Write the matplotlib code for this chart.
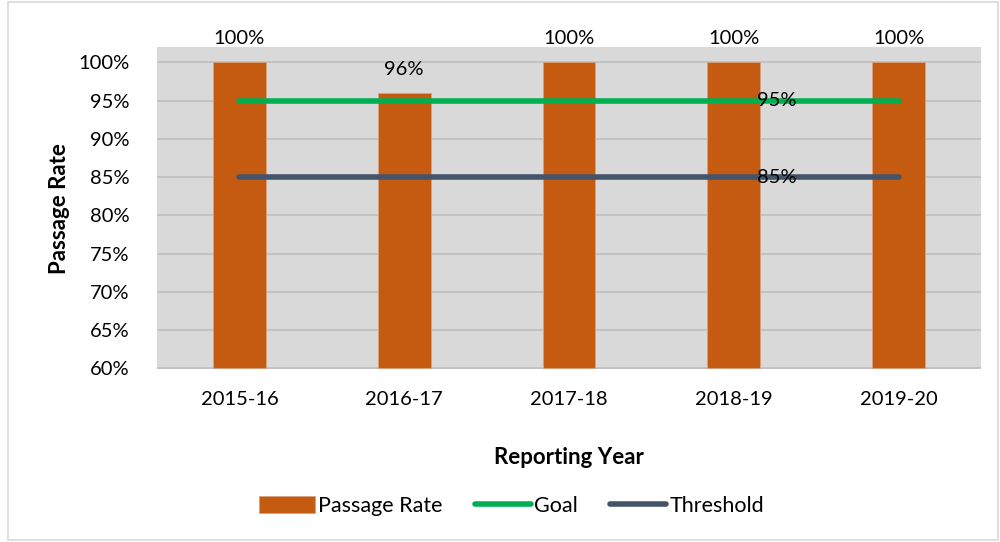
import matplotlib.pyplot as plt
from matplotlib.patches import Rectangle

years = ['2015-16', '2016-17', '2017-18', '2018-19', '2019-20']
passage_rate = [100, 96, 100, 100, 100]
goal = [95, 95, 95, 95, 95]
threshold = [85, 85, 85, 85, 85]
yticks = [60, 65, 70, 75, 80, 85, 90, 95, 100]

plt.rcParams['font.family'] = ['Lato', 'DejaVu Sans']
fs = 14.5

fig = plt.figure(figsize=(10, 5.42), dpi=100)
ax = fig.add_axes([0.157, 0.319, 0.824, 0.594])
ax.set_facecolor('#D9D9D9')

x = list(range(len(years)))
ax.bar(x, [v - 60 for v in passage_rate], bottom=60, width=0.32,
       color='#C55A11', edgecolor='#D9A27F', linewidth=0.6,
       zorder=2, label='Passage Rate')
ax.plot(x, goal, color='#00B050', linewidth=4, solid_capstyle='round',
        zorder=3, label='Goal')
ax.plot(x, threshold, color='#44546A', linewidth=4, solid_capstyle='round',
        zorder=3, label='Threshold')

# data labels
for xi, v in zip(x, passage_rate):
    ax.text(xi, v + 3.1, f'{v}%', ha='center', va='center', fontsize=fs,
            clip_on=False, zorder=4)
ax.text(3.26, goal[3], f'{goal[3]}%', ha='center', va='center', fontsize=fs, zorder=4)
ax.text(3.26, threshold[3], f'{threshold[3]}%', ha='center', va='center',
        fontsize=fs, zorder=4)

ax.set_xlim(-0.5, len(years) - 0.5)
ax.set_ylim(59.9, 102)
ax.set_yticks(yticks)
ax.set_yticklabels([f'{t}%' for t in yticks], fontsize=fs)
ax.set_xticks(x)
ax.set_xticklabels(years, fontsize=fs)
ax.tick_params(axis='y', length=0, pad=20)
ax.tick_params(axis='x', length=0, pad=16)
ax.grid(axis='y', color='#BFBFBF', linewidth=1.2, zorder=1)
ax.set_axisbelow(True)
for s in ax.spines.values():
    s.set_visible(False)

ax.set_ylabel('Passage Rate', fontsize=16, fontweight='bold', labelpad=6)
ax.set_xlabel('Reporting Year', fontsize=16, fontweight='bold', labelpad=28)

handles, labels = ax.get_legend_handles_labels()
order = [labels.index(n) for n in ['Passage Rate', 'Goal', 'Threshold']]
ax.legend([handles[i] for i in order], [labels[i] for i in order],
          loc='center', bbox_to_anchor=(0.43, -0.425), ncol=3, frameon=False,
          fontsize=15.5, handlelength=2.6, handleheight=0.85, handletextpad=0.15,
          columnspacing=1.5)

fig.patches.append(Rectangle((0.008, 0.004), 0.99, 0.992, transform=fig.transFigure,
                             fill=False, edgecolor='#D9D9D9', linewidth=1.2))

fig.savefig('out.png', dpi=100)
